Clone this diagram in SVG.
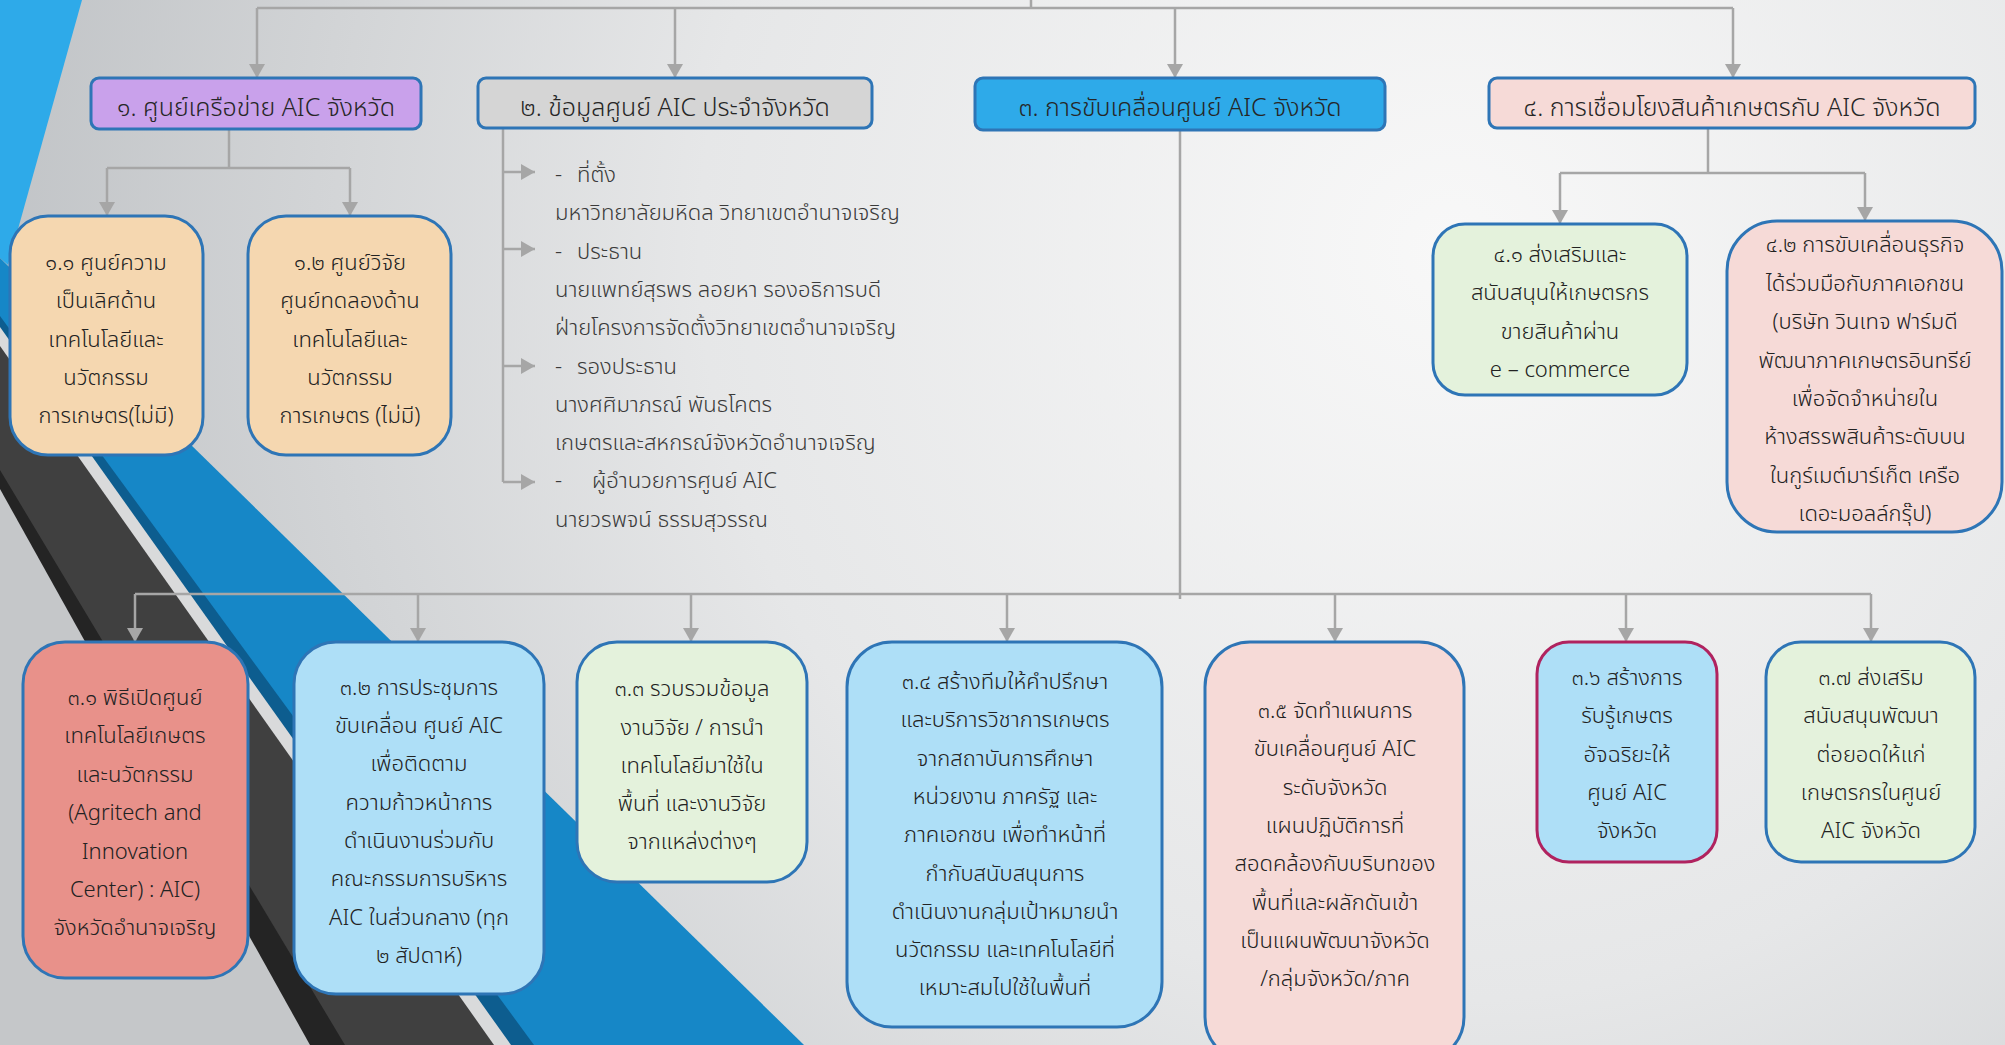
<svg xmlns="http://www.w3.org/2000/svg" width="2005" height="1045" viewBox="0 0 2005 1045">
<defs>
<radialGradient id="bg" cx="1450" cy="250" r="1500" gradientUnits="userSpaceOnUse">
<stop offset="0" stop-color="#f8f8f8"/>
<stop offset="0.5" stop-color="#e6e7e8"/>
<stop offset="1" stop-color="#bfc2c5"/>
</radialGradient>
<marker id="ah" markerUnits="userSpaceOnUse" markerWidth="16" markerHeight="16" refX="14" refY="8" orient="auto" viewBox="0 0 16 16">
<path d="M0,0 L14,8 L0,16 z" fill="#a6a6a6"/>
</marker>
<style>
.ln{fill:none;stroke:#a6a6a6;stroke-width:2.5}
.ar{fill:none;stroke:#a6a6a6;stroke-width:2.5;marker-end:url(#ah)}
.bx{stroke:#2e75b6;stroke-width:3}
text{font-family:"Noto Sans Thai","Noto Sans Thai UI",Tahoma,"Noto Sans","DejaVu Sans",sans-serif;fill:#222222;font-weight:300}
.t{font-size:25px;text-anchor:middle;fill:#262626}
.b{font-size:22px;text-anchor:middle}
.l{font-size:22px;fill:#3a3a3a}
</style>
</defs>
<rect width="2005" height="1045" fill="url(#bg)"/>
<g id="decor">
<polygon points="0,0 82,0 8,265 0,258" fill="#2eaae9"/>
<polygon points="0,258 804,1045 0,1045" fill="#1687c7"/>
<polygon points="0,316 534,1045 0,1045" fill="#0d5d8f"/>
<polygon points="0,327 511,1045 0,1045" fill="#d9dadb"/>
<polygon points="0,346 494,1045 0,1045" fill="#404040"/>
<polygon points="0,470 345,1045 0,1045" fill="#242424"/>
<polygon points="0,489 310,1045 0,1045" fill="#c5c7c9"/>
</g>
<g id="connectors">
<path class="ln" d="M1031,0 V8 M257,8 H1733"/>
<path class="ar" d="M257,8 V78"/>
<path class="ar" d="M675,8 V78"/>
<path class="ar" d="M1175,8 V78"/>
<path class="ar" d="M1733,8 V78"/>
<path class="ln" d="M229,129 V168 M107,168 H350"/>
<path class="ar" d="M107,168 V216"/>
<path class="ar" d="M350,168 V216"/>
<path class="ln" d="M503,128 V482"/>
<path class="ar" d="M503,172 H535"/>
<path class="ar" d="M503,249 H535"/>
<path class="ar" d="M503,366 H535"/>
<path class="ar" d="M503,482 H535"/>
<path class="ln" d="M1180,130 V599 M135,594 H1871"/>
<path class="ar" d="M135,594 V642"/>
<path class="ar" d="M418,594 V642"/>
<path class="ar" d="M691,594 V642"/>
<path class="ar" d="M1007,594 V642"/>
<path class="ar" d="M1335,594 V642"/>
<path class="ar" d="M1626,594 V642"/>
<path class="ar" d="M1871,594 V642"/>
<path class="ln" d="M1708,128 V173 M1560,173 H1865"/>
<path class="ar" d="M1560,173 V224"/>
<path class="ar" d="M1865,173 V221"/>
</g>
<g id="n1">
<rect class="bx" x="91" y="78" width="330" height="51" rx="8" fill="#c9a1eb"/>
<text class="t" x="256" y="116">๑. ศูนย์เครือข่าย AIC จังหวัด</text>
</g>
<g id="n2">
<rect class="bx" x="478" y="78" width="394" height="50" rx="8" fill="#d5d5d5"/>
<text class="t" x="675" y="116">๒. ข้อมูลศูนย์ AIC ประจำจังหวัด</text>
</g>
<g id="n2-list">
<text class="l" x="555" y="182">-</text><text class="l" x="577" y="182">ที่ตั้ง</text>
<text class="l" x="555" y="220">มหาวิทยาลัยมหิดล วิทยาเขตอำนาจเจริญ</text>
<text class="l" x="555" y="259">-</text><text class="l" x="577" y="259">ประธาน</text>
<text class="l" x="555" y="297">นายแพทย์สุรพร ลอยหา รองอธิการบดี</text>
<text class="l" x="555" y="335">ฝ่ายโครงการจัดตั้งวิทยาเขตอำนาจเจริญ</text>
<text class="l" x="555" y="374">-</text><text class="l" x="577" y="374">รองประธาน</text>
<text class="l" x="555" y="412">นางศศิมาภรณ์  พันธโคตร</text>
<text class="l" x="555" y="450">เกษตรและสหกรณ์จังหวัดอำนาจเจริญ</text>
<text class="l" x="555" y="488">-</text><text class="l" x="592" y="488">ผู้อำนวยการศูนย์ AIC</text>
<text class="l" x="555" y="527">นายวรพจน์  ธรรมสุวรรณ</text>
</g>
<g id="n3">
<rect class="bx" x="975" y="78" width="410" height="52" rx="8" fill="#2eaae9"/>
<text class="t" x="1180" y="116">๓. การขับเคลื่อนศูนย์ AIC จังหวัด</text>
</g>
<g id="n4">
<rect class="bx" x="1489" y="78" width="486" height="50" rx="8" fill="#f6dad7"/>
<text class="t" x="1732" y="116">๔. การเชื่อมโยงสินค้าเกษตรกับ AIC จังหวัด</text>
</g>
<g id="n1-1">
<rect class="bx" x="10" y="216" width="193" height="239" rx="38" fill="#f5d7b0"/>
<text class="b" x="106" y="270">๑.๑ ศูนย์ความ</text>
<text class="b" x="106" y="308">เป็นเลิศด้าน</text>
<text class="b" x="106" y="347">เทคโนโลยีและ</text>
<text class="b" x="106" y="385">นวัตกรรม</text>
<text class="b" x="106" y="423">การเกษตร(ไม่มี)</text>
</g>
<g id="n1-2">
<rect class="bx" x="248" y="216" width="203" height="239" rx="38" fill="#f5d7b0"/>
<text class="b" x="350" y="270">๑.๒ ศูนย์วิจัย</text>
<text class="b" x="350" y="308">ศูนย์ทดลองด้าน</text>
<text class="b" x="350" y="347">เทคโนโลยีและ</text>
<text class="b" x="350" y="385">นวัตกรรม</text>
<text class="b" x="350" y="423">การเกษตร (ไม่มี)</text>
</g>
<g id="n4-1">
<rect class="bx" x="1433" y="224" width="254" height="171" rx="32" fill="#e4f2dc"/>
<text class="b" x="1560" y="262">๔.๑ ส่งเสริมและ</text>
<text class="b" x="1560" y="300">สนับสนุนให้เกษตรกร</text>
<text class="b" x="1560" y="339">ขายสินค้าผ่าน</text>
<text class="b" x="1560" y="377">e – commerce</text>
</g>
<g id="n4-2">
<rect class="bx" x="1727" y="221" width="275" height="311" rx="50" fill="#f6dad7"/>
<text class="b" x="1865" y="252">๔.๒ การขับเคลื่อนธุรกิจ</text>
<text class="b" x="1865" y="291">ได้ร่วมมือกับภาคเอกชน</text>
<text class="b" x="1865" y="329">(บริษัท วินเทจ ฟาร์มดี</text>
<text class="b" x="1865" y="368">พัฒนาภาคเกษตรอินทรีย์</text>
<text class="b" x="1865" y="406">เพื่อจัดจำหน่ายใน</text>
<text class="b" x="1865" y="444">ห้างสรรพสินค้าระดับบน</text>
<text class="b" x="1865" y="483">ในกูร์เมต์มาร์เก็ต  เครือ</text>
<text class="b" x="1865" y="521">เดอะมอลล์กรุ๊ป)</text>
</g>
<g id="n3-1">
<rect class="bx" x="23" y="642" width="225" height="336" rx="42" fill="#e8918a"/>
<text class="b" x="135" y="705">๓.๑ พิธีเปิดศูนย์</text>
<text class="b" x="135" y="743">เทคโนโลยีเกษตร</text>
<text class="b" x="135" y="782">และนวัตกรรม</text>
<text class="b" x="135" y="820">(Agritech and</text>
<text class="b" x="135" y="859">Innovation</text>
<text class="b" x="135" y="897">Center) : AIC)</text>
<text class="b" x="135" y="935">จังหวัดอำนาจเจริญ</text>
</g>
<g id="n3-2">
<rect class="bx" x="294" y="642" width="250" height="352" rx="42" fill="#aedff7"/>
<text class="b" x="419" y="695">๓.๒ การประชุมการ</text>
<text class="b" x="419" y="733">ขับเคลื่อน  ศูนย์ AIC</text>
<text class="b" x="419" y="771">เพื่อติดตาม</text>
<text class="b" x="419" y="810">ความก้าวหน้าการ</text>
<text class="b" x="419" y="848">ดำเนินงานร่วมกับ</text>
<text class="b" x="419" y="886">คณะกรรมการบริหาร</text>
<text class="b" x="419" y="925">AIC ในส่วนกลาง (ทุก</text>
<text class="b" x="419" y="963">๒ สัปดาห์)</text>
</g>
<g id="n3-3">
<rect class="bx" x="577" y="642" width="230" height="240" rx="40" fill="#e4f2dc"/>
<text class="b" x="692" y="696">๓.๓ รวบรวมข้อมูล</text>
<text class="b" x="692" y="735">งานวิจัย / การนำ</text>
<text class="b" x="692" y="773">เทคโนโลยีมาใช้ใน</text>
<text class="b" x="692" y="811">พื้นที่ และงานวิจัย</text>
<text class="b" x="692" y="849">จากแหล่งต่างๆ</text>
</g>
<g id="n3-4">
<rect class="bx" x="847" y="642" width="315" height="385" rx="45" fill="#aedff7"/>
<text class="b" x="1005" y="689">๓.๔ สร้างทีมให้คำปรึกษา</text>
<text class="b" x="1005" y="727">และบริการวิชาการเกษตร</text>
<text class="b" x="1005" y="766">จากสถาบันการศึกษา</text>
<text class="b" x="1005" y="804">หน่วยงาน ภาครัฐ และ</text>
<text class="b" x="1005" y="842">ภาคเอกชน เพื่อทำหน้าที่</text>
<text class="b" x="1005" y="881">กำกับสนับสนุนการ</text>
<text class="b" x="1005" y="919">ดำเนินงานกลุ่มเป้าหมายนำ</text>
<text class="b" x="1005" y="957">นวัตกรรม และเทคโนโลยีที่</text>
<text class="b" x="1005" y="995">เหมาะสมไปใช้ในพื้นที่</text>
</g>
<g id="n3-5">
<rect class="bx" x="1205" y="642" width="259" height="420" rx="45" fill="#f6dad7"/>
<text class="b" x="1335" y="718">๓.๕ จัดทำแผนการ</text>
<text class="b" x="1335" y="756">ขับเคลื่อนศูนย์ AIC</text>
<text class="b" x="1335" y="795">ระดับจังหวัด</text>
<text class="b" x="1335" y="833">แผนปฏิบัติการที่</text>
<text class="b" x="1335" y="871">สอดคล้องกับบริบทของ</text>
<text class="b" x="1335" y="910">พื้นที่และผลักดันเข้า</text>
<text class="b" x="1335" y="948">เป็นแผนพัฒนาจังหวัด</text>
<text class="b" x="1335" y="986">/กลุ่มจังหวัด/ภาค</text>
</g>
<g id="n3-6">
<rect x="1537" y="642" width="180" height="220" rx="32" fill="#aedff7" stroke="#b0235f" stroke-width="3"/>
<text class="b" x="1627" y="685">๓.๖ สร้างการ</text>
<text class="b" x="1627" y="723">รับรู้เกษตร</text>
<text class="b" x="1627" y="762">อัจฉริยะให้</text>
<text class="b" x="1627" y="800">ศูนย์ AIC</text>
<text class="b" x="1627" y="838">จังหวัด</text>
</g>
<g id="n3-7">
<rect class="bx" x="1766" y="642" width="209" height="220" rx="35" fill="#e4f2dc"/>
<text class="b" x="1871" y="685">๓.๗  ส่งเสริม</text>
<text class="b" x="1871" y="723">สนับสนุนพัฒนา</text>
<text class="b" x="1871" y="762">ต่อยอดให้แก่</text>
<text class="b" x="1871" y="800">เกษตรกรในศูนย์</text>
<text class="b" x="1871" y="838">AIC จังหวัด</text>
</g>
</svg>
